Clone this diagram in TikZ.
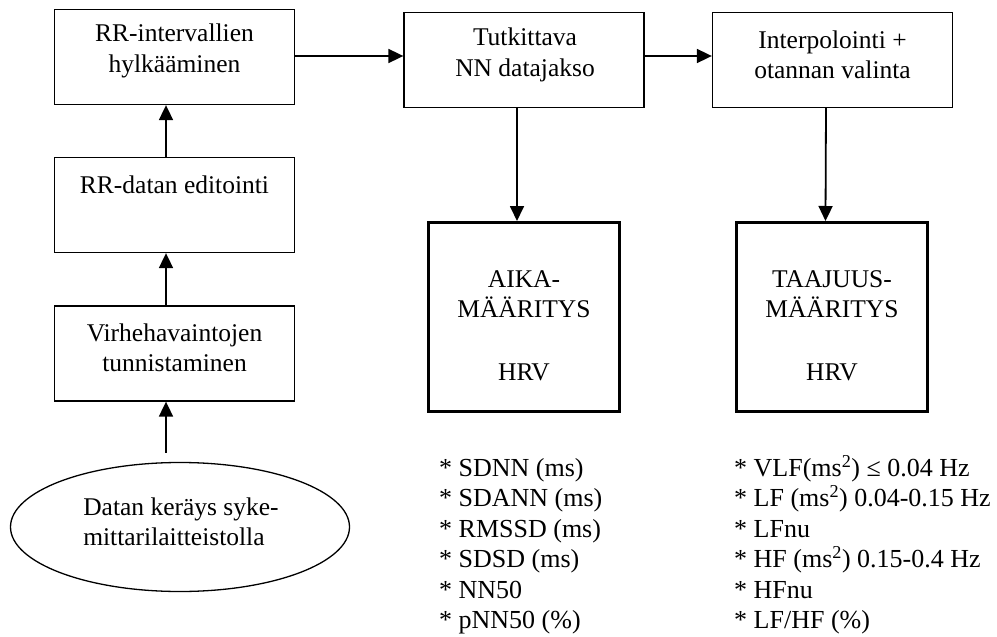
\documentclass[tikz,border=0pt]{standalone}
\usepackage{fontspec}
\setmainfont{Liberation Serif}
\usetikzlibrary{arrows.meta,shapes.geometric}
\begin{document}
\begin{tikzpicture}[x=1pt,y=-1pt,
  box/.style={draw,line width=1.3pt,minimum width=240pt,minimum height=95pt,inner sep=0pt},
  bigbox/.style={draw,line width=3.3pt,minimum width=190.7pt,minimum height=188.7pt,inner sep=0pt},
  oval/.style={draw,ellipse,line width=1.3pt,minimum width=339pt,minimum height=129pt,inner sep=0pt},
  txt/.style={align=center,font=\fontsize{25.5}{30.5}\selectfont,inner sep=0pt},
  lst/.style={align=left,anchor=north west,inner sep=0pt,font=\fontsize{26}{30.4}\selectfont},
  arr/.style={line width=1.8pt,-{Triangle[length=15pt,width=14pt]}}]
\useasboundingbox (0,0) rectangle (997,637);
% left column
\node[box] (b1) at (174.5,57) {};
\node[box] (b2) at (174.5,205) {};
\node[box] (b3) at (174.5,353.5) {};
\node[oval] (e) at (180,527) {};
\node[txt] (b1t) at (174.5,51) {RR-intervallien\\hylkääminen};
\node[txt] (b2t) at (174.5,185) {RR-datan editointi};
\node[txt] (b3t) at (174.5,348) {Virhehavaintojen\\tunnistaminen};
\node[txt,align=left] (et) at (181,522) {Datan keräys syke-\\mittarilaitteistolla};
% top row
\node[box] (t) at (524,60) {};
\node[box] (i) at (832.5,60) {};
\node[txt] (tt) at (525,55) {Tutkittava\\NN datajakso};
\node[txt] (it) at (832.5,55) {Interpolointi +\\otannan valinta};
% result boxes
\node[bigbox] (a) at (524,317) {};
\node[bigbox] (f) at (832,317) {};
\node[txt] (a1) at (524,294) {AIKA-\\MÄÄRITYS};
\node[txt] (a2) at (524,372) {HRV};
\node[txt] (f1) at (832,294) {TAAJUUS-\\MÄÄRITYS};
\node[txt] (f2) at (832,372) {HRV};
% lists
\node[lst] (l1) at (439,455) {\strut* SDNN (ms)\\* SDANN (ms)\\* RMSSD (ms)\\* SDSD (ms)\\* NN50\\* pNN50 (\%)};
\node[lst] (l2) at (734,455) {\strut* VLF(ms\textsuperscript{2}) ≤ 0.04 Hz\\* LF (ms\textsuperscript{2}) 0.04-0.15 Hz\\* LFnu\\* HF (ms\textsuperscript{2}) 0.15-0.4 Hz\\* HFnu\\* LF/HF (\%)};
% connectors
\coordinate (es) at ([xshift=-14pt,yshift=9pt]e.north);
\draw[arr] (es) -- (es |- b3.south);
\draw[arr] ([xshift=-8.5pt]b3.north) -- ([xshift=-8.5pt]b2.south);
\draw[arr] ([xshift=-8.5pt]b2.north) -- ([xshift=-8.5pt]b1.south);
\coordinate (h1) at ([yshift=1pt]b1.east);
\draw[arr] (h1) -- (h1 -| t.west);
\coordinate (h2) at ([yshift=4pt]t.east);
\draw[arr] (h2) -- (h2 -| i.west);
\draw[arr] ([xshift=-7pt]t.south) -- ([xshift=-7pt]a.north);
\draw[arr] ([xshift=-6.5pt]i.south) -- ([xshift=-6.5pt]f.north);
\end{tikzpicture}
\end{document}
